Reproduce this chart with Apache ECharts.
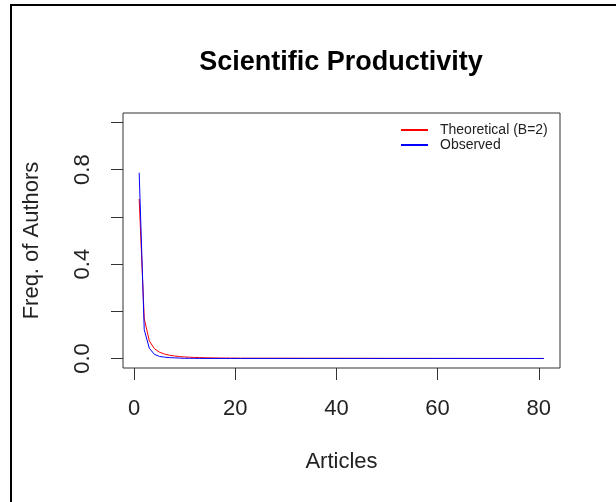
<!DOCTYPE html>
<html>
<head>
<meta charset="utf-8">
<script src="https://cdn.jsdelivr.net/npm/echarts@6/dist/echarts.min.js"></script>
<style>
html,body{margin:0;padding:0;background:#fff;}
#c{width:616px;height:502px;}
</style>
</head>
<body>
<div id="c"></div>
<script>
// Data
const articles = [1, 2, 3, 4, 5, 6, 7, 8, 9, 10, 11, 12, 13, 14, 15, 16, 17, 18, 19, 21, 81];
const theoretical = [0.676, 0.169, 0.075, 0.042, 0.027, 0.019, 0.014, 0.011, 0.0083, 0.0068, 0.0056, 0.0047, 0.004, 0.0034, 0.003, 0.0026, 0.0023, 0.0021, 0.0019, 0.0015, 0.0001];
const observed = [0.787, 0.122, 0.044, 0.018, 0.009, 0.006, 0.004, 0.003, 0.002, 0.001, 0.001, 0.0008, 0.0006, 0.0005, 0.0005, 0.0005, 0.0005, 0.0005, 0.0005, 0.0005, 0.0005];
const xTicks = [0, 20, 40, 60, 80];
const yTicks = [0, 0.2, 0.4, 0.6, 0.8, 1.0];
const yLabels = [0, 0.4, 0.8];
const seriesNames = ['Theoretical (B=2)', 'Observed'];

const font = 'Liberation Sans, Arial, sans-serif';
const chart = echarts.init(document.getElementById('c'), null, {renderer: 'canvas'});
const pair = (xs, ys) => xs.map((x, i) => [x, ys[i]]);

chart.setOption({
  animation: false,
  backgroundColor: '#ffffff',
  title: {
    text: 'Scientific Productivity',
    left: 336, top: 44, textAlign: 'center',
    textStyle: {fontFamily: font, fontWeight: 'bold', fontSize: 27, color: '#000'}
  },
  legend: {
    orient: 'vertical', left: 401, top: 123, padding: 0,
    itemWidth: 27, itemHeight: 2, itemGap: 1, icon: 'rect',
    data: seriesNames,
    textStyle: {fontFamily: font, fontSize: 14, color: '#222', padding: [0, 0, 0, 7]}
  },
  grid: {
    left: 123, top: 113, width: 437, height: 255,
    show: true, borderColor: '#333', borderWidth: 1, backgroundColor: 'transparent'
  },
  xAxis: {
    type: 'value', min: -2.2, max: 84.2,
    name: 'Articles', nameLocation: 'middle', nameGap: 83,
    nameTextStyle: {fontFamily: font, fontSize: 22, color: '#222'},
    axisLine: {show: false, onZero: false},
    splitLine: {show: false},
    axisTick: {show: true, customValues: xTicks, length: 12, lineStyle: {color: '#333'}},
    axisLabel: {customValues: xTicks, margin: 30, fontFamily: font, fontSize: 22, color: '#222'}
  },
  yAxis: {
    type: 'value', min: -0.04, max: 1.04,
    name: 'Freq. of Authors', nameLocation: 'middle', nameGap: 80, nameRotate: 90,
    nameTextStyle: {fontFamily: font, fontSize: 22, color: '#222'},
    axisLine: {show: false, onZero: false},
    splitLine: {show: false},
    axisTick: {show: true, customValues: yTicks, length: 12, lineStyle: {color: '#333'}},
    axisLabel: {customValues: yLabels, rotate: 90, margin: 29, fontFamily: font, fontSize: 22, color: '#222',
      formatter: v => v.toFixed(1)}
  },
  graphic: [{
    type: 'polyline', silent: true, z: 100,
    shape: {points: [[11, 502], [11, 5], [616, 5]]},
    style: {stroke: '#000', lineWidth: 2, fill: null}
  }],
  series: [
    {name: seriesNames[0], type: 'line', data: pair(articles, theoretical), showSymbol: false, symbol: 'none',
      lineStyle: {color: '#ff0000', width: 1}, itemStyle: {color: '#ff0000'}},
    {name: seriesNames[1], type: 'line', data: pair(articles, observed), showSymbol: false, symbol: 'none',
      lineStyle: {color: '#0000ff', width: 1}, itemStyle: {color: '#0000ff'}}
  ]
});
</script>
</body>
</html>
